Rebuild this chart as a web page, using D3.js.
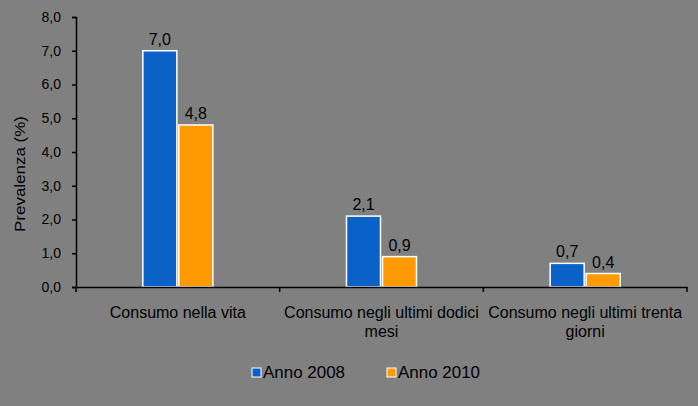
<!DOCTYPE html>
<html><head><meta charset="utf-8">
<script src="https://cdn.jsdelivr.net/npm/d3@7"></script>
<style>html,body{margin:0;padding:0;background:#808080;}svg{display:block;font-family:"Liberation Sans",Arial,sans-serif;}</style>
</head><body>
<script>
const categories = [["Consumo nella vita"], ["Consumo negli ultimi dodici", "mesi"], ["Consumo negli ultimi trenta", "giorni"]];
const seriesNames = ["Anno 2008", "Anno 2010"];
const values2008 = [7.0, 2.1, 0.7];
const values2010 = [4.8, 0.9, 0.4];
const yTicks = [0, 1, 2, 3, 4, 5, 6, 7, 8];
const colors = ["#0A62C9", "#FF9A05"];

const W = 698, H = 406;
const svg = d3.select("body").append("svg").attr("width", W).attr("height", H);
svg.append("rect").attr("width", W).attr("height", H).attr("fill", "#808080");

const x0 = 76, x1 = 687, yTop = 17, yBot = 287;
const x = d3.scaleBand().domain(d3.range(categories.length)).range([x0, x1]);
const y = d3.scaleLinear().domain([0, 8]).range([yBot, yTop]);
const fmt = v => d3.format(".1f")(v).replace(".", ",");

// y axis
const yAxis = d3.axisLeft(y).tickValues(yTicks).tickSize(4).tickFormat(fmt);
const gy = svg.append("g").attr("transform", `translate(${x0},0)`).call(yAxis);
gy.select(".domain").attr("stroke", "#000").attr("stroke-width", 1.5);
gy.selectAll(".tick line").attr("stroke", "#000").attr("stroke-width", 1.5);
gy.selectAll(".tick text").attr("fill", "#000").attr("font-size", 14).attr("x", -15)
  .attr("font-family", "Liberation Sans, Arial, sans-serif");

svg.append("text").attr("transform", `translate(25,174) rotate(-90)`)
  .attr("text-anchor", "middle").attr("font-size", 15).attr("fill", "#000")
  .attr("textLength", 116).attr("lengthAdjust", "spacingAndGlyphs").text("Prevalenza (%)");

// bars
const data = [values2008, values2010];
const bw = 34, gap = 2;
data.forEach((vals, si) => {
  const g = svg.append("g");
  g.selectAll("rect").data(vals).join("rect")
    .attr("x", (d, i) => x(i) + x.bandwidth() / 2 - bw - gap / 2 + si * (bw + gap))
    .attr("y", d => y(d))
    .attr("width", bw)
    .attr("height", d => y(0) - y(d))
    .attr("fill", colors[si])
    .attr("stroke", "#fff").attr("stroke-width", 1.5);
  g.selectAll("text").data(vals).join("text")
    .attr("x", (d, i) => x(i) + x.bandwidth() / 2 - bw / 2 - gap / 2 + si * (bw + gap))
    .attr("y", d => y(d) - 6)
    .attr("text-anchor", "middle").attr("font-size", 16).attr("fill", "#000")
    .text(d => fmt(d));
});

// x axis
const gx = svg.append("g").attr("transform", `translate(0,${yBot})`)
  .call(d3.axisBottom(x).tickValues([]).tickSizeOuter(0));
gx.select(".domain").attr("stroke", "#000").attr("stroke-width", 1.5);
const tickPos = d3.range(categories.length + 1).map(i => x0 + i * x.step());
gx.selectAll("line.sep").data(tickPos).join("line").attr("class", "sep")
  .attr("x1", d => d).attr("x2", d => d).attr("y1", 0).attr("y2", 5)
  .attr("stroke", "#000").attr("stroke-width", 1.5);

// category labels
categories.forEach((lines, i) => {
  const t = svg.append("text").attr("x", x(i) + x.bandwidth() / 2).attr("y", 318)
    .attr("text-anchor", "middle").attr("font-size", 16).attr("fill", "#000");
  lines.forEach((l, k) => t.append("tspan").attr("x", x(i) + x.bandwidth() / 2).attr("dy", k ? 19 : 0).text(l));
});

// legend
const legX = [252, 387];
seriesNames.forEach((n, i) => {
  svg.append("rect").attr("x", legX[i]).attr("y", 368).attr("width", 9).attr("height", 9)
    .attr("fill", colors[i]).attr("stroke", "#fff").attr("stroke-width", 1);
  svg.append("text").attr("x", legX[i] + 11).attr("y", 378).attr("font-size", 16)
    .attr("textLength", 82).attr("lengthAdjust", "spacingAndGlyphs")
    .attr("fill", "#000").text(n);
});
</script>
</body></html>
